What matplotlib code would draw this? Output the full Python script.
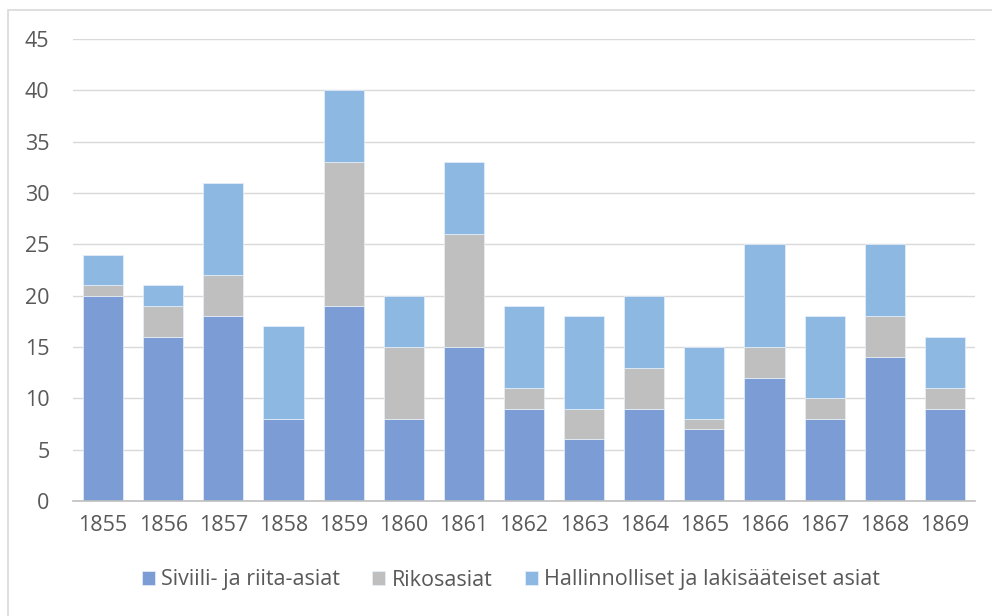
import numpy as np
from matplotlib import pyplot as plt
from matplotlib.patches import Rectangle

plt.rcParams['font.family'] = ['Open Sans', 'DejaVu Sans']

years = ['1855', '1856', '1857', '1858', '1859', '1860', '1861', '1862',
         '1863', '1864', '1865', '1866', '1867', '1868', '1869']
siviili = [20, 16, 18, 8, 19, 8, 15, 9, 6, 9, 7, 12, 8, 14, 9]
rikos = [1, 3, 4, 0, 14, 7, 11, 2, 3, 4, 1, 3, 2, 4, 2]
hallinto = [3, 2, 9, 9, 7, 5, 7, 8, 9, 7, 7, 10, 8, 7, 5]

labels = ['Siviili- ja riita-asiat', 'Rikosasiat',
          'Hallinnolliset ja lakisääteiset asiat']
colors = ['#7B9CD5', '#BFBFBF', '#8CB8E2']

W, H = 992, 616
fig = plt.figure(figsize=(W / 100, H / 100), dpi=100)
ax = fig.add_axes([73 / W, 1 - 501 / H, (975 - 73) / W, (501 - 39) / H])

# chart frame
fig.patches.append(Rectangle((8 / W, -0.1), 1.2, 1 - 10 / H + 0.1,
                             transform=fig.transFigure, fill=False,
                             edgecolor='#D9D9D9', lw=1.2))

x = np.arange(len(years))
bottom = np.zeros(len(years))
for vals, lab, c in zip([siviili, rikos, hallinto], labels, colors):
    ax.bar(x, vals, 0.667, bottom=bottom, color=c, label=lab,
           edgecolor='#E8F0FA', linewidth=0.5, zorder=2)
    bottom += np.array(vals)

ax.set_xlim(-0.5, len(years) - 0.5)
ax.set_ylim(0, 45)
ax.set_yticks(np.arange(0, 46, 5))
ax.set_xticks(x)
ax.set_xticklabels(years)
ax.grid(axis='y', color='#D9D9D9', lw=1, zorder=0)
for s in ['top', 'right', 'left']:
    ax.spines[s].set_visible(False)
ax.spines['bottom'].set_color('#BFBFBF')
ax.spines['bottom'].set_linewidth(1.2)
ax.spines['bottom'].set_zorder(3)
ax.tick_params(axis='both', length=0, labelsize=15.5, colors='#595959')
ax.tick_params(axis='x', pad=10)
ax.tick_params(axis='y', pad=17)

fig.legend(loc='center', bbox_to_anchor=(0.515, 1 - 580 / H), ncol=3,
           frameon=False, fontsize=15.5, labelcolor='#595959',
           handlelength=0.6, handleheight=0.6, handletextpad=0.3,
           columnspacing=1.5)

plt.savefig('out.png', dpi=100)
